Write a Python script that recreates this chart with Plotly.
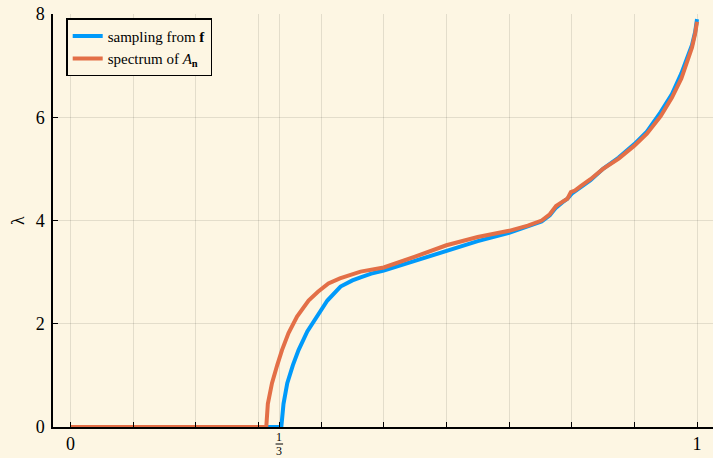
import plotly.graph_objects as go

# ---- data ----
blue_x = [0, 0.3365, 0.340, 0.346, 0.355, 0.364, 0.378, 0.394, 0.41, 0.431, 0.45, 0.463, 0.48, 0.5,
          0.55, 0.6, 0.65, 0.7, 0.73, 0.752, 0.765, 0.775, 0.785, 0.793, 0.80, 0.815, 0.83, 0.85,
          0.875, 0.9, 0.92, 0.942, 0.96, 0.975, 0.985, 0.992, 0.997, 1.0]
blue_y = [0, 0, 0.45, 0.85, 1.2, 1.49, 1.85, 2.14, 2.45, 2.72, 2.84, 2.9, 2.97, 3.03,
          3.22, 3.42, 3.6, 3.76, 3.88, 3.98, 4.10, 4.25, 4.35, 4.42, 4.52, 4.65, 4.78, 5.0,
          5.22, 5.48, 5.72, 6.1, 6.45, 6.85, 7.15, 7.4, 7.65, 7.9]

orange_x = [0, 0.3125, 0.315, 0.3216, 0.33, 0.3376, 0.348, 0.3616, 0.38, 0.395, 0.4117, 0.43, 0.463,
            0.5, 0.55, 0.6, 0.65, 0.7, 0.73, 0.752, 0.765, 0.775, 0.785, 0.793, 0.7986, 0.805,
            0.815, 0.83, 0.85, 0.875, 0.9, 0.92, 0.942, 0.96, 0.975, 0.985, 0.992, 0.997, 1.0]
orange_y = [0, 0, 0.45, 0.85, 1.2, 1.49, 1.82, 2.14, 2.45, 2.62, 2.78, 2.88, 3.01,
            3.09, 3.30, 3.52, 3.68, 3.80, 3.90, 4.0, 4.12, 4.28, 4.36, 4.42, 4.55, 4.58,
            4.67, 4.80, 5.0, 5.2, 5.45, 5.68, 6.02, 6.38, 6.75, 7.1, 7.35, 7.62, 7.85]

x_tickvals = [0, 0.1, 0.2, 0.3, 1/3, 0.4, 0.5, 0.6, 0.7, 0.8, 0.9, 1.0]
x_ticktext = ["0", "", "", "", "", "", "", "", "", "", "", "1"]
y_tickvals = [0, 2, 4, 6, 8]
y_ticktext = ["0", "2", "4", "6", "8"]

BG = "#FDF6E3"
FONT = "Liberation Serif"
GRID = "rgba(0,0,0,0.1)"

fig = go.Figure()
fig.add_trace(go.Scatter(x=blue_x, y=blue_y, mode="lines",
                         line=dict(color="#009AFA", width=4),
                         name="sampling from <b>f</b>"))
fig.add_trace(go.Scatter(x=orange_x, y=orange_y, mode="lines",
                         line=dict(color="#E36F47", width=4),
                         name="spectrum of <i>A</i><sub><b>n</b></sub>"))

fig.update_layout(
    width=713, height=458,
    paper_bgcolor=BG, plot_bgcolor=BG,
    margin=dict(l=53, r=0, t=14, b=31),
    font=dict(family=FONT, color="black", size=18),
    showlegend=True,
    legend=dict(x=0.02, y=0.99, xanchor="left", yanchor="top",
                bgcolor=BG, bordercolor="black", borderwidth=1.5,
                font=dict(family=FONT, size=15), tracegroupgap=0,
                itemwidth=30),
    xaxis=dict(range=[-0.0279, 1.0255], tickvals=x_tickvals, ticktext=x_ticktext,
               ticks="inside", ticklen=5, tickcolor="black", tickwidth=1,
               showgrid=True, gridcolor=GRID, gridwidth=1,
               showline=True, linecolor="black", linewidth=1.5,
               zeroline=False, tickfont=dict(size=18, family=FONT),
               ticklabeloverflow="allow"),
    yaxis=dict(range=[0, 8], tickvals=y_tickvals, ticktext=y_ticktext,
               ticks="inside", ticklen=5, tickcolor="black", tickwidth=1,
               showgrid=True, gridcolor=GRID, gridwidth=1,
               showline=True, linecolor="black", linewidth=1.5,
               zeroline=False, tickfont=dict(size=18, family=FONT),
               ticklabelstandoff=3, ticklabeloverflow="allow",
               title=dict(text="λ", font=dict(size=18, family=FONT), standoff=6)),
)

# stacked 1/3 tick label
fig.add_annotation(x=1/3, xref="x", y=0, yref="paper", text="1", showarrow=False,
                   yanchor="middle", yshift=-10, font=dict(size=12, family=FONT))
fig.add_annotation(x=1/3, xref="x", y=0, yref="paper", text="3", showarrow=False,
                   yanchor="middle", yshift=-24, font=dict(size=12, family=FONT))
fig.add_shape(type="line", xref="x", yref="paper", x0=1/3 - 0.006, x1=1/3 + 0.006,
              y0=-17/413, y1=-17/413, line=dict(color="black", width=1))

fig.write_html("out.html", config={"displayModeBar": False},
               post_script="document.body.style.margin='0';document.body.style.overflow='hidden';")
